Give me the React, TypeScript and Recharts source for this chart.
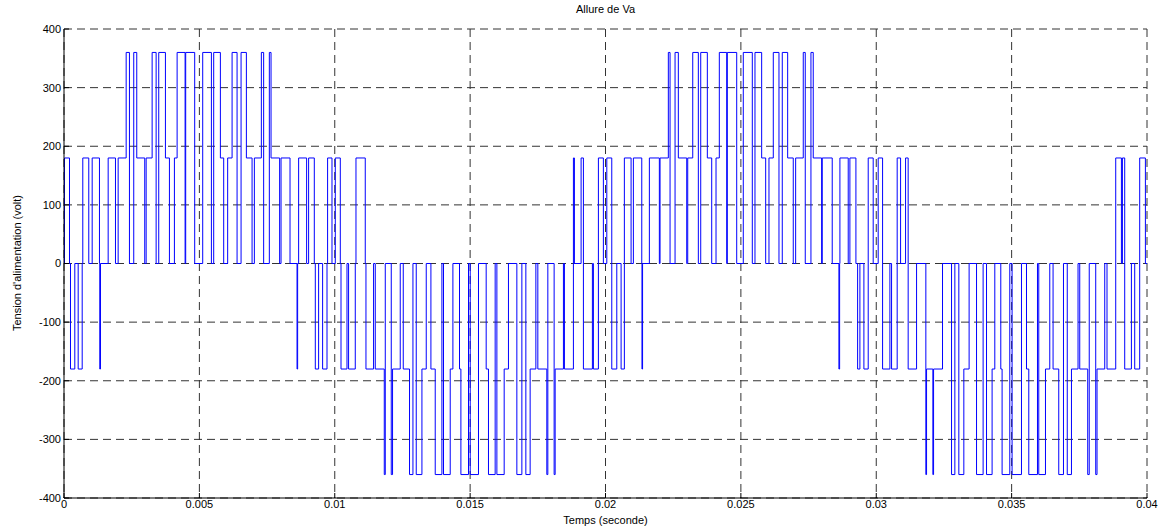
import React from 'react';
import { LineChart, Line, XAxis, YAxis, CartesianGrid } from 'recharts';

// switching instants (ms) and the level Va takes from that instant on (V)
const edgeMs = [
    0, 0.018, 0.203, 0.240, 0.399, 0.524, 0.672, 0.694, 0.915, 1.041,
    1.310, 1.321, 1.347, 1.631, 1.901, 2.000, 2.296, 2.417, 2.576, 2.687,
    2.982, 3.034, 3.255, 3.403, 3.499, 3.746, 3.894, 4.078, 4.178, 4.473,
    4.495, 4.827, 5.123, 5.444, 5.529, 5.776, 5.898, 6.045, 6.208, 6.392,
    6.540, 6.736, 6.946, 7.031, 7.289, 7.374, 7.584, 7.647, 7.964, 8.016,
    8.348, 8.607, 8.629, 8.666, 8.961, 9.035, 9.245, 9.282, 9.404, 9.552,
    9.714, 9.736, 9.898, 10.020, 10.205, 10.231, 10.452, 10.511, 10.758, 10.784,
    11.127, 11.153, 11.434, 11.497, 11.829, 11.866, 12.087, 12.135, 12.419, 12.530,
    12.762, 12.888, 13.010, 13.220, 13.379, 13.552, 13.711, 13.958, 14.017, 14.265,
    14.364, 14.608, 14.659, 14.940, 15.003, 15.309, 15.593, 15.678, 15.925, 15.988,
    16.258, 16.416, 16.726, 16.911, 17.058, 17.217, 17.428, 17.501, 17.833, 17.870,
    18.103, 18.140, 18.446, 18.483, 18.815, 18.852, 19.099, 19.184, 19.516, 19.553,
    19.738, 19.922, 20.048, 20.232, 20.417, 20.576, 20.697, 20.945, 21.030, 21.340,
    21.347, 21.369, 21.620, 21.989, 22.015, 22.321, 22.384, 22.569, 22.690, 23.000,
    23.037, 23.222, 23.429, 23.517, 23.761, 23.923, 24.082, 24.204, 24.477, 24.499,
    24.846, 25.089, 25.422, 25.521, 25.768, 25.916, 26.038, 26.197, 26.407, 26.529,
    26.728, 26.935, 27.023, 27.304, 27.378, 27.588, 27.673, 27.983, 28.005, 28.374,
    28.621, 28.647, 28.658, 28.965, 29.027, 29.249, 29.312, 29.396, 29.544, 29.703,
    29.887, 30.072, 30.234, 30.504, 30.566, 30.773, 30.899, 31.083, 31.179, 31.489,
    31.832, 31.858, 32.091, 32.117, 32.448, 32.781, 32.903, 33.050, 33.235, 33.430,
    33.704, 33.947, 34.073, 34.279, 34.379, 34.600, 34.648, 34.932, 35.017, 35.364,
    35.549, 35.634, 35.955, 36.003, 36.250, 36.409, 36.531, 36.741, 36.915, 37.055,
    37.210, 37.453, 37.516, 37.811, 37.867, 38.106, 38.154, 38.439, 38.523, 38.845,
    39.055, 39.092, 39.177, 39.424, 39.546, 39.730, 39.941, 40.000,
];

const levels = [
    0, 180, 0, -180, 0, -180, 0, 180, 0, 180,
    0, -180, 0, 180, 0, 180, 360, 0, 360, 180,
    0, 180, 360, 0, 360, 180, 0, 180, 360, 0,
    360, 0, 360, 0, 360, 180, 0, 180, 360, 0,
    360, 180, 0, 180, 360, 0, 360, 180, 0, 180,
    0, -180, 0, 180, 0, 180, 0, -180, 0, -180,
    0, 180, 0, 180, 0, -180, 0, -180, 0, 180,
    0, -180, 0, -180, -360, 0, -360, -180, 0, -180,
    -360, 0, -360, -180, 0, -180, -360, 0, -360, -180,
    0, -180, -360, 0, -360, 0, -180, -360, 0, -360,
    -180, 0, -360, 0, -360, -180, 0, -180, -360, 0,
    -360, -180, 0, -180, 180, 0, 180, -180, 0, -180,
    180, 0, 180, -180, 0, -180, 180, 0, 180, 0,
    -180, 0, 180, 0, 180, 360, 0, 360, 180, 0,
    180, 360, 0, 360, 180, 0, 180, 360, 0, 360,
    0, 360, 0, 360, 180, 0, 180, 360, 0, 360,
    180, 0, 180, 360, 0, 360, 180, 0, 180, 0,
    -180, 0, 180, 0, 180, 0, -180, 0, -180, 180,
    0, 180, -180, 0, -180, 180, 0, 180, -180, 0,
    -360, -180, -360, -180, 0, -360, 0, -360, -180, 0,
    -360, 0, -360, -180, 0, -180, -360, 0, -360, 0,
    -180, -360, 0, -360, -180, 0, -180, -360, 0, -360,
    -180, 0, -180, -360, 0, -360, -180, 0, -180, 180,
    0, 180, -180, 0, -180, 180, 0, 0,
];

const xTicks = [0, 0.005, 0.01, 0.015, 0.02, 0.025, 0.03, 0.035, 0.04];
const yTicks = [-400, -300, -200, -100, 0, 100, 200, 300, 400];

const data = edgeMs.map((ms, i) => ({ t: ms / 1000, va: levels[i] }));

const FONT = '"Liberation Sans", Arial, sans-serif';
const tickStyle = { fill: '#000', fontSize: 11, fontFamily: FONT };

export default function App() {
    return (
        <div style={{ position: 'absolute', left: 0, top: 0, width: 1165, height: 531, background: '#fff', fontFamily: FONT }}>
            <LineChart width={1165} height={531} data={data} margin={{ top: 29, right: 18, bottom: 0, left: 0 }}>
                <CartesianGrid stroke="#333" strokeDasharray="8 5" ticks={undefined} />
                <XAxis
                    dataKey="t"
                    type="number"
                    domain={[0, 0.04]}
                    ticks={xTicks}
                    interval={0}
                    height={33}
                    stroke="#000"
                    tickSize={-5}
                    tickMargin={7}
                    tick={tickStyle}
                    allowDataOverflow
                />
                <XAxis xAxisId="top" orientation="top" dataKey="t" type="number" domain={[0, 0.04]} ticks={xTicks}
                    height={0} stroke="#000" tickSize={-5} tick={false} />
                <YAxis
                    type="number"
                    domain={[-400, 400]}
                    ticks={yTicks}
                    interval={0}
                    width={64}
                    stroke="#000"
                    tickSize={-5}
                    tickMargin={8}
                    tick={tickStyle}
                />
                <YAxis yAxisId="right" orientation="right" type="number" domain={[-400, 400]} ticks={yTicks}
                    width={0} stroke="#000" tickSize={-5} tick={false} />
                <Line
                    type="stepAfter"
                    dataKey="va"
                    stroke="#0000ff"
                    strokeWidth={1}
                    dot={false}
                    activeDot={false}
                    isAnimationActive={false}
                />
            </LineChart>
            <div style={{ position: 'absolute', left: 64, width: 1083, top: 3, textAlign: 'center', fontSize: 11 }}>Allure de Va</div>
            <div style={{ position: 'absolute', left: 64, width: 1083, top: 514, textAlign: 'center', fontSize: 11 }}>Temps (seconde)</div>
            <div style={{
                position: 'absolute', left: 17, top: 263, fontSize: 11, whiteSpace: 'nowrap',
                transform: 'translate(-50%, -50%) rotate(-90deg)'
            }}>Tension d'alimentation (volt)</div>
        </div>
    );
}
